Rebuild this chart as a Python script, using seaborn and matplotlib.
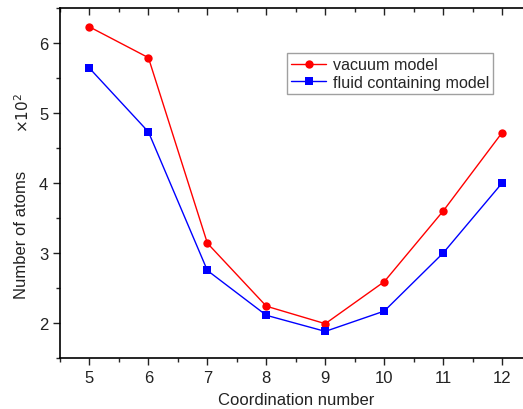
import pandas as pd
import matplotlib
matplotlib.use('Agg')
import matplotlib.pyplot as plt
import seaborn as sns
from matplotlib.ticker import MultipleLocator

coord = [5, 6, 7, 8, 9, 10, 11, 12]
vacuum = [6.23, 5.79, 3.14, 2.24, 1.99, 2.59, 3.60, 4.72]
fluid = [5.64, 4.73, 2.75, 2.11, 1.88, 2.17, 3.00, 4.00]
series_names = ['vacuum model', 'fluid containing model']

df = pd.DataFrame({
    'Coordination number': coord * 2,
    'atoms': vacuum + fluid,
    'model': [series_names[0]] * len(coord) + [series_names[1]] * len(coord),
})

sns.set_style('ticks')
plt.rcParams['font.family'] = ['Liberation Sans', 'DejaVu Sans']

fig = plt.figure(figsize=(5.23, 4.10), dpi=100)
ax = fig.add_axes([0.1147, 0.1244, 0.9018, 0.8537])

sns.lineplot(data=df, x='Coordination number', y='atoms', hue='model', style='model',
             markers=['o', 's'], dashes=False, palette=['#ff0000', '#0000ff'],
             markersize=6, markeredgewidth=0, linewidth=1, ax=ax)

ax.set_xlim(4.5, 12.5)
ax.set_ylim(1.5, 6.5)
ax.xaxis.set_major_locator(MultipleLocator(1))
ax.xaxis.set_minor_locator(MultipleLocator(0.5))
ax.yaxis.set_major_locator(MultipleLocator(1))
ax.yaxis.set_minor_locator(MultipleLocator(0.5))
ax.tick_params(axis='both', which='major', length=5, width=1, labelsize=12, colors='#222222')
ax.tick_params(axis='both', which='minor', length=3, width=1)
ax.tick_params(axis='x', which='both', top=True, direction='out')
for t in ax.xaxis.get_major_ticks() + ax.xaxis.get_minor_ticks():
    t.tick2line.set_marker(3)  # inward at top
ax.xaxis.set_tick_params(which='both', labeltop=False)
for s in ax.spines.values():
    s.set_linewidth(1.2)
    s.set_color('black')

ax.set_xlabel('Coordination number', fontsize=12, color='#222222', labelpad=5)
ax.set_ylabel('Number of atoms', fontsize=12, color='#222222')
ax.yaxis.set_label_coords(-0.066, 0.354)
ax.text(-0.08, 0.703, r'$\times10^2$', transform=ax.transAxes, rotation=90,
        fontsize=11, ha='center', va='center', color='#222222')

leg = ax.legend(loc='upper left', bbox_to_anchor=(0.481, 0.871), borderaxespad=0,
                fontsize=11.6, frameon=True, fancybox=False, handlelength=2.2,
                handletextpad=0.4, borderpad=0.25, labelspacing=0.15)
leg.get_frame().set_edgecolor('#888888')
leg.get_frame().set_linewidth(1)
leg.set_title(None)

fig.savefig('out.png', dpi=100)
